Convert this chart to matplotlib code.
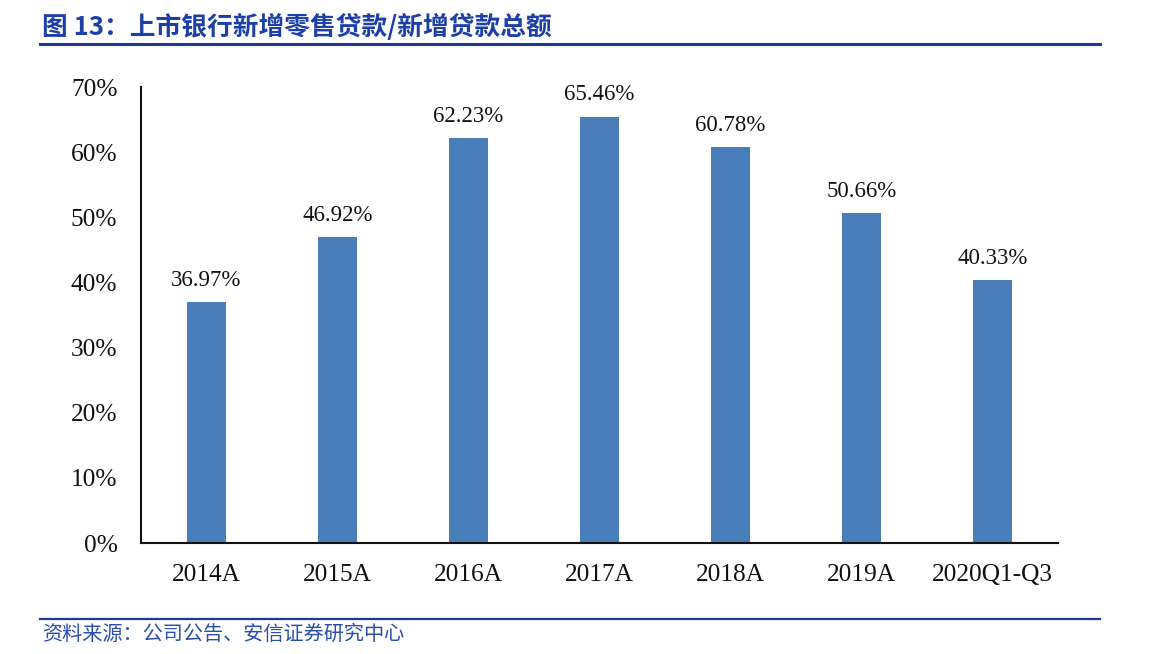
import matplotlib
matplotlib.use("Agg")
import matplotlib.pyplot as plt
from matplotlib.lines import Line2D

categories = ["2014A", "2015A", "2016A", "2017A", "2018A", "2019A", "2020Q1-Q3"]
values = [36.97, 46.92, 62.23, 65.46, 60.78, 50.66, 40.33]
yticks = [0, 10, 20, 30, 40, 50, 60, 70]
title = "图 13：上市银行新增零售贷款/新增贷款总额"
source = "资料来源：公司公告、安信证券研究中心"

W, H = 1162, 654
fig = plt.figure(figsize=(W / 100, H / 100), dpi=100)
fig.patch.set_facecolor("white")

ax = fig.add_axes([141 / W, 1 - 543 / H, (1058 - 141) / W, (543 - 87) / H])
x = list(range(len(categories)))
ax.bar(x, values, width=0.305, color="#4a7ebb", zorder=2)
ax.set_xlim(-0.5, len(categories) - 0.5)
ax.set_ylim(0, 70)
ax.set_yticks(yticks)
ax.set_yticklabels([f"{t}%" for t in yticks])
ax.set_xticks(x)
ax.set_xticklabels(categories)
for s in ["top", "right"]:
    ax.spines[s].set_visible(False)
for s in ["left", "bottom"]:
    ax.spines[s].set_color("#111111")
    ax.spines[s].set_linewidth(1.5)
ax.tick_params(axis="both", length=0, labelsize=18.3, labelcolor="#111111")
ax.tick_params(axis="x", pad=15)
ax.tick_params(axis="y", pad=17)
for lbl in ax.get_xticklabels() + ax.get_yticklabels():
    lbl.set_fontfamily("Liberation Serif")
for xi, v in zip(x, values):
    ax.annotate(f"{v:.2f}%", (xi, v), xytext=(0, 8), textcoords="offset points",
                ha="center", va="bottom", fontsize=16.5, family="Liberation Serif",
                color="#111111")

navy = "#1f3a93"
fig.text(42 / W, 1 - 27 / H, title, fontsize=18.5, fontweight="bold", color="#1c3fa8",
         family=["Noto Sans CJK SC", "DejaVu Sans"], va="center", ha="left")
fig.add_artist(Line2D([40 / W, 1100 / W], [1 - 44 / H, 1 - 44 / H], color=navy, lw=2.2,
                      transform=fig.transFigure))
fig.add_artist(Line2D([40 / W, 1100 / W], [1 - 619 / H, 1 - 619 / H], color=navy, lw=1.6,
                      transform=fig.transFigure))
fig.text(42 / W, 1 - 634 / H, source, fontsize=14.5, style="italic", color="#2a4fa8",
         family=["Noto Sans CJK SC", "DejaVu Sans"], va="center", ha="left")

fig.savefig("out.png", dpi=100, facecolor="white")
